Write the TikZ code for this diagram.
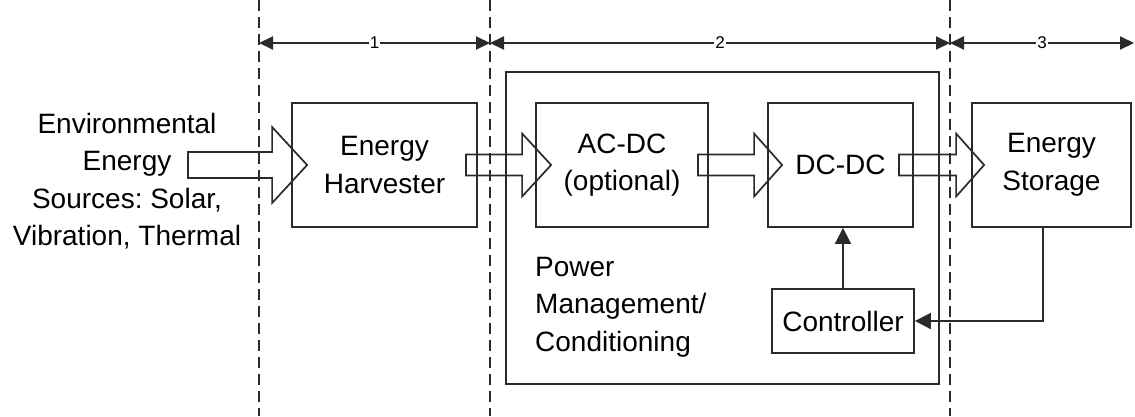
\documentclass[tikz,border=0pt]{standalone}
\usepackage{fontspec}
\setmainfont{Liberation Sans}
\usetikzlibrary{arrows.meta,calc}
\definecolor{linec}{HTML}{2A2A2A}
\frenchspacing
\newcommand{\blockarrow}[5]{%
  \draw[blk] let \p1=(#1), \p2=(#2) in
    (\x1,\y1+#3pt) -- (\x2-#5pt,\y1+#3pt) -- (\x2-#5pt,\y1+#4pt) -- (\x2,\y1)
    -- (\x2-#5pt,\y1-#4pt) -- (\x2-#5pt,\y1-#3pt) -- (\x1,\y1-#3pt) -- cycle;}
\begin{document}
\begin{tikzpicture}[x=1pt,y=-1pt,
  box/.style={draw=linec, line width=1.8pt, inner sep=0pt, align=center,
    font=\fontsize{28}{37.5}\selectfont, text=black},
  txt/.style={inner sep=0pt, font=\fontsize{28}{37.5}\selectfont, text=black},
  blk/.style={draw=linec, line width=1.7pt, line join=miter},
  tipd/.tip={Triangle[length=14pt,width=13pt]},
  tipc/.tip={Triangle[length=16pt,width=16pt]},
  dimline/.style={draw=linec, line width=2pt, tipd-tipd},
  conn/.style={draw=linec, line width=1.8pt, -tipc},
  guide/.style={draw=linec, line width=1.6pt, dash pattern=on 11pt off 6pt},
  lbl/.style={fill=white, inner sep=1pt, font=\fontsize{17}{20}\selectfont}]
\useasboundingbox (0,0) rectangle (1135,416);
% guides
\coordinate (g1t) at (259,0);   \coordinate (g1b) at (259,416);
\coordinate (g2t) at (490,0);   \coordinate (g2b) at (490,416);
\coordinate (g3t) at (950,0);   \coordinate (g3b) at (950,416);
\draw[guide] (g1t) -- (g1b);
\draw[guide] (g2t) -- (g2b);
\draw[guide] (g3t) -- (g3b);
% dimension lines
\coordinate (d1) at (259,43);
\coordinate (d2) at (490,43);
\coordinate (d3) at (950,43);
\coordinate (d4) at (1134,43);
\draw[dimline] (d1) -- node[lbl] (l1) {1} (d2);
\draw[dimline] (d2) -- node[lbl] (l2) {2} (d3);
\draw[dimline] (d3) -- node[lbl] (l3) {3} (d4);
% boxes
\node[box, minimum width=433pt, minimum height=312pt] (pm) at (722.5,228) {};
\node[box, minimum width=185pt, minimum height=124pt] (h) at (384.5,165) {Energy\\Harvester};
\node[box, minimum width=172pt, minimum height=124pt] (a) at (622,165) {AC-DC\\(optional)};
\node[box, minimum width=145pt, minimum height=124pt] (d) at (840.5,165) {DC-DC};
\node[box, minimum width=159pt, minimum height=124pt] (s) at (1051.5,165) {Energy\\Storage};
\node[box, minimum width=142pt, minimum height=64pt] (c) at (843,321) {Controller};
% texts
\node[txt, align=center] (src) at (127,181) {Environmental\\Energy\\Sources: Solar,\\Vibration, Thermal};
\node[txt, align=left, anchor=north west] (pmt) at (535,257) {Power\\Management/\\Conditioning};
% block arrows
\coordinate (in0) at (188,165);
\blockarrow{in0}{$(h.west)+(16,0)$}{13}{38}{35}
\blockarrow{$(h.east)+(-12,0)$}{$(a.west)+(16,0)$}{10.5}{31.5}{29}
\blockarrow{$(a.east)+(-11,0)$}{$(d.west)+(15,0)$}{10.5}{31.5}{28}
\blockarrow{$(d.east)+(-15,0)$}{$(s.west)+(13,0)$}{10.5}{31.5}{28}
% control connectors
\draw[conn] (c.north) -- (c.north |- d.south);
\draw[conn] ($(s.south)+(-8.5,0)$) |- (c.east);
\end{tikzpicture}
\end{document}
